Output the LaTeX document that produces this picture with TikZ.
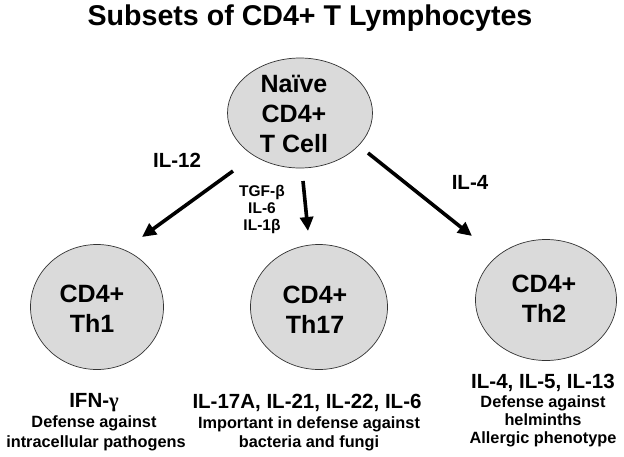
\documentclass[tikz,border=0pt]{standalone}
\usepackage{fontspec}
\setmainfont{Liberation Sans}
\newfontfamily\grkserif{Liberation Serif}
\usetikzlibrary{arrows.meta,shapes.geometric}
\definecolor{cellfill}{HTML}{DADADA}
\definecolor{cellline}{HTML}{333333}
\begin{document}
\begin{tikzpicture}[x=1pt,y=-1pt,
  cell/.style={ellipse, draw=cellline, line width=0.7pt, fill=cellfill, inner sep=0pt},
  celltxt/.style={align=center, font=\bfseries\fontsize{25}{30}\selectfont, inner sep=0pt},
  arr/.style={line width=3.6pt, -{Triangle[length=14pt,width=13pt]}},
  big/.style={anchor=base, inner sep=0pt, font=\bfseries\fontsize{20.5}{24}\selectfont},
  small/.style={anchor=base, inner sep=0pt, font=\bfseries\fontsize{16.3}{19}\selectfont},
  cyt/.style={anchor=base, inner sep=0pt, font=\bfseries\fontsize{15.5}{18}\selectfont}]
\useasboundingbox (0,0) rectangle (624,456);
\fill[white] (0,0) rectangle (624,456);
% title
\node[anchor=base, inner sep=0pt, font=\bfseries\fontsize{28.6}{32}\selectfont] (title) at (310,25) {Subsets of CD4+ T Lymphocytes};
% cells
\node[cell, minimum width=145pt, minimum height=110pt] (naive) at (300,113) {};
\node[celltxt] (naivet) at (294,114) {Naïve\\CD4+\\T Cell};
\node[cell, minimum width=133pt, minimum height=125pt] (th1) at (97,307) {};
\node[celltxt] (th1t) at (92,308.5) {CD4+\\Th1};
\node[cell, minimum width=137pt, minimum height=125pt] (th17) at (319,307) {};
\node[celltxt] (th17t) at (315,310) {CD4+\\Th17};
\node[cell, minimum width=141pt, minimum height=121pt] (th2) at (546,300) {};
\node[celltxt] (th2t) at (544,299) {CD4+\\Th2};
% arrow ends
\coordinate (a1s) at (233,171);
\coordinate (a1e) at (142,237);
\coordinate (a2s) at (303,181);
\coordinate (a2e) at (308,231);
\coordinate (a3s) at (368,153);
\coordinate (a3e) at (472,236);
\draw[arr] (a1s) -- (a1e);
\draw[arr] (a2s) -- (a2e);
\draw[arr] (a3s) -- (a3e);
% arrow labels
\node[big] (il12) at (177,167) {IL-12};
\node[cyt] (tgf) at (262,196) {TGF-β};
\node[cyt] (il6) at (262,213) {IL-6};
\node[cyt] (il1b) at (262,230) {IL-1β};
\node[big] (il4) at (470,189) {IL-4};
% Th1 text
\node[big] (th1a) at (94,407) {IFN-{\grkserif γ}};
\node[small] (th1b) at (94,427) {Defense against};
\node[small] (th1c) at (96,447) {intracellular pathogens};
% Th17 text
\node[big] (th17a) at (307,408) {IL-17A, IL-21, IL-22, IL-6};
\node[small] (th17b) at (309,428) {Important in defense against};
\node[small] (th17c) at (309,447) {bacteria and fungi};
% Th2 text
\node[big] (th2a) at (543,388) {IL-4, IL-5, IL-13};
\node[small] (th2b) at (543,407) {Defense against};
\node[small] (th2c) at (543,425) {helminths};
\node[small] (th2d) at (543,443) {Allergic phenotype};
\end{tikzpicture}
\end{document}
